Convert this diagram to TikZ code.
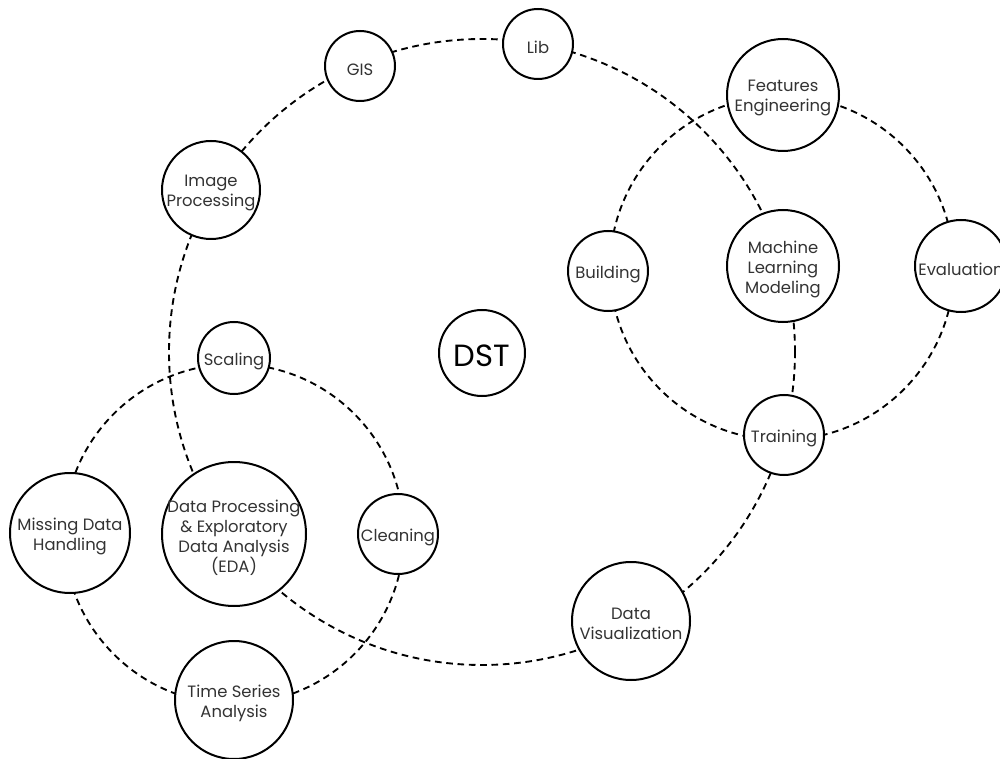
\documentclass[tikz,border=0pt]{standalone}
\usepackage{fontspec}
\setmainfont{Poppins}
\definecolor{txtgray}{HTML}{333333}
\begin{document}
\begin{tikzpicture}[x=0.75pt,y=-0.75pt,
  bub/.style={circle,draw=black,line width=1.5pt,fill=white,inner sep=0pt},
  txt/.style={align=center,text=txtgray,font=\fontsize{12.3}{15}\selectfont,yshift=-2.5pt,inner sep=0pt},
  orbit/.style={draw=black,line width=1.4pt,dash pattern=on 5pt off 3.5pt}]
\fill[white] (0,0) rectangle (1000,759);
\useasboundingbox (0,0) rectangle (1000,759);
\clip (0,0) rectangle (1000,759);
\coordinate (bigc) at (482,352);
\coordinate (leftc) at (234,534);
\coordinate (rightc) at (782,268);
\draw[orbit] (bigc) circle[radius=234.75pt];
\draw[orbit] (leftc) circle[radius=127.5pt];
\draw[orbit] (rightc) circle[radius=129pt];
% big circle nodes
\node[bub,minimum size=52.5pt,label={[txt]center:GIS}] (gis) at (360,66) {};
\node[bub,minimum size=52.5pt,label={[txt]center:Lib}] (lib) at (538,44) {};
\node[bub,minimum size=73.5pt,label={[txt]center:{Image\\Processing}}] (img) at (211,190) {};
\node[bub,minimum size=84pt,label={[txt]center:{Machine\\Learning\\Modeling}}] (ml) at (783,266) {};
\node[bub,minimum size=60pt,label={[txt]center:Training}] (train) at (784,435) {};
\node[bub,minimum size=88.5pt,label={[txt]center:{Data\\Visualization}}] (vis) at (631,621) {};
\node[bub,minimum size=108pt,label={[txt]center:{Data Processing\\\& Exploratory\\Data Analysis\\(EDA)}}] (eda) at (234,534) {};
% right circle nodes
\node[bub,minimum size=84pt,label={[txt]center:{Features\\Engineering}}] (feat) at (783,95) {};
\node[bub,minimum size=60pt,label={[txt]center:Building}] (build) at (608,271) {};
\node[bub,minimum size=69pt,label={[txt]center:Evaluation}] (eval) at (961,266) {};
% left circle nodes
\node[bub,minimum size=54pt,label={[txt]center:Scaling}] (scal) at (234,358) {};
\node[bub,minimum size=90pt,label={[txt]center:{Missing Data\\Handling}}] (miss) at (70,533) {};
\node[bub,minimum size=60pt,label={[txt]center:Cleaning}] (clean) at (398,534) {};
\node[bub,minimum size=88.5pt,label={[txt]center:{Time Series\\Analysis}}] (ts) at (234,700) {};
% center
\node[bub,minimum size=64.5pt,label={[txt,text=black,font=\fontsize{23}{27}\selectfont,yshift=0.5pt]center:DST}] (dst) at (482,353) {};
\end{tikzpicture}
\end{document}
